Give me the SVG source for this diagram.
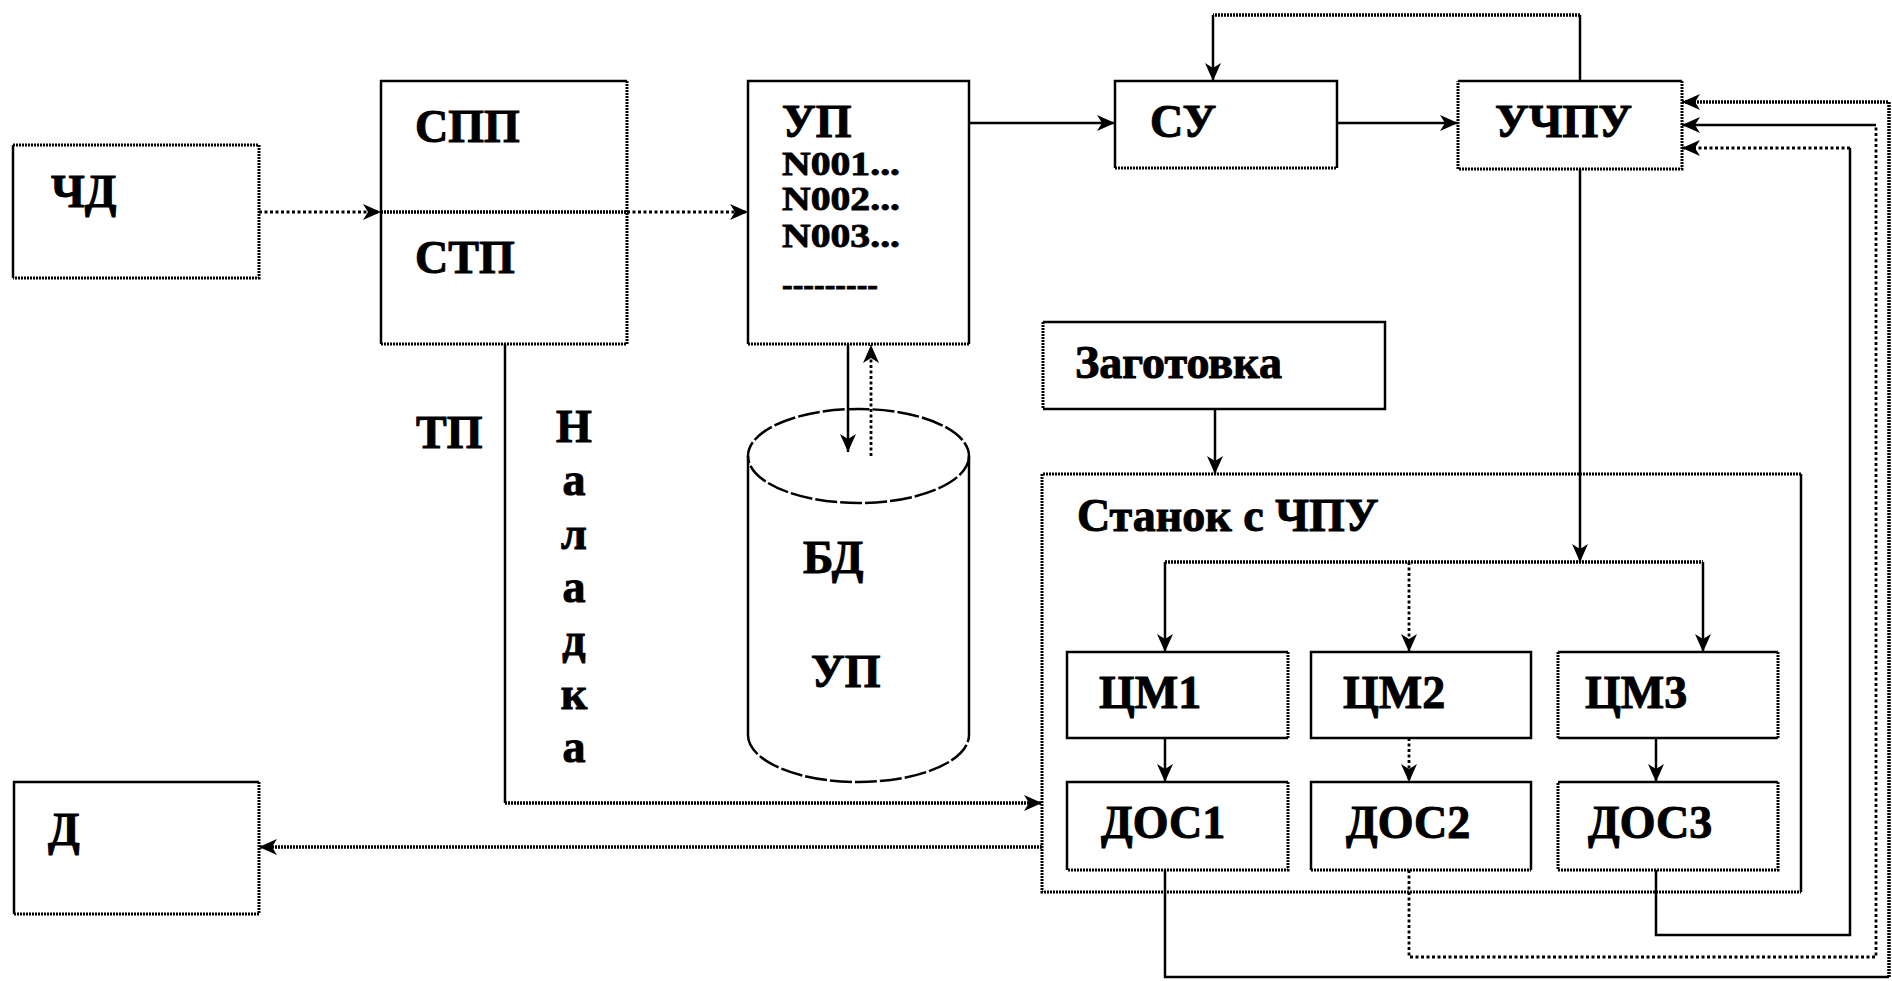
<svg xmlns="http://www.w3.org/2000/svg" width="1892" height="981" viewBox="0 0 1892 981">
<style>
.t{font-family:"Liberation Serif","Times New Roman",serif;font-weight:bold;font-size:46px;fill:#000;stroke:#000;stroke-width:1}
.ts{font-family:"Liberation Serif","Times New Roman",serif;font-weight:bold;font-size:33px;fill:#000;stroke:#000;stroke-width:0.8}
.bg{fill:#fff;stroke:none}
.s{fill:none;stroke:#000;stroke-width:2.5}
.d{fill:none;stroke:#000;stroke-width:3;stroke-dasharray:2 1}
.c{fill:none;stroke:#000;stroke-width:2.5}
.cd{fill:none;stroke:#000;stroke-width:2.8;stroke-dasharray:3 2.5}
.cth{fill:none;stroke:#000;stroke-width:3.5;stroke-dasharray:2 1}
.cyl{fill:none;stroke:#000;stroke-width:2.5;stroke-dasharray:22 3}
</style>
<defs>
<marker id="ar" markerUnits="userSpaceOnUse" markerWidth="20" markerHeight="18" refX="18" refY="9" orient="auto">
<path d="M0,1 L18,9 L0,17 L5,9 z" fill="#000" stroke="none"/>
</marker>
</defs>
<rect width="1892" height="981" fill="#fff"/>

<g id="chd">
<rect class="bg" x="13" y="145" width="246" height="133"/>
<path class="s" d="M13,145 V278"/>
<path class="d" d="M13,145 H259 V278 H13"/>
<text class="t" x="51" y="207">ЧД</text>
</g>

<g id="spp-stp">
<rect class="bg" x="381" y="81" width="246" height="263"/>
<path class="s" d="M627,81 H381 V344"/>
<path class="d" d="M627,81 V344 H381"/>
<path class="cth" d="M381,212 H627"/>
<text class="t" x="415" y="142">СПП</text>
<text class="t" x="415" y="273">СТП</text>
</g>

<g id="up">
<rect class="bg" x="748" y="81" width="221" height="263"/>
<path class="s" d="M748,344 V81 H969 V344"/>
<path class="d" d="M748,344 H969"/>
<text class="t" x="782" y="137">УП</text>
<text class="ts" x="782" y="175" textLength="118" lengthAdjust="spacingAndGlyphs">N001...</text>
<text class="ts" x="782" y="210" textLength="118" lengthAdjust="spacingAndGlyphs">N002...</text>
<text class="ts" x="782" y="247" textLength="118" lengthAdjust="spacingAndGlyphs">N003...</text>
<text class="ts" x="782" y="296" textLength="96" lengthAdjust="spacingAndGlyphs">---------</text>
</g>

<g id="su">
<rect class="bg" x="1115" y="81" width="222" height="87"/>
<path class="s" d="M1115,168 V81 H1337 V168"/>
<path class="d" d="M1115,168 H1337"/>
<text class="t" x="1150" y="137">СУ</text>
</g>

<g id="uchpu">
<rect class="bg" x="1458" y="81" width="224" height="88"/>
<path class="s" d="M1458,81 H1682"/>
<path class="d" d="M1682,81 V169 H1458 V81"/>
<text class="t" x="1495" y="137">УЧПУ</text>
</g>

<g id="bd">
<path class="s" d="M748,456 V735 M969,456 V735"/>
<ellipse class="cyl" cx="858.5" cy="456" rx="110.5" ry="47"/>
<path class="cyl" d="M748,735 A110.5,47 0 0 0 969,735"/>
<text class="t" x="803" y="573">БД</text>
<text class="t" x="811" y="687">УП</text>
</g>

<g id="zagotovka">
<rect class="bg" x="1043" y="322" width="342" height="87"/>
<path class="s" d="M1043,322 H1385 V409 H1043"/>
<path class="d" d="M1043,322 V409"/>
<text class="t" x="1075" y="378">Заготовка</text>
</g>

<g id="stanok">
<path class="s" d="M1801,474 V892"/>
<path class="d" d="M1801,474 H1042 V892 H1801"/>
<text class="t" x="1077" y="531">Станок с ЧПУ</text>
</g>

<g id="cm1">
<rect class="bg" x="1067" y="652" width="221" height="86"/>
<path class="s" d="M1288,652 H1067 V738 H1288"/>
<path class="d" d="M1288,652 V738"/>
<text class="t" x="1099" y="708">ЦМ1</text>
</g>
<g id="cm2">
<rect class="bg" x="1311" y="652" width="220" height="86"/>
<path class="s" d="M1311,652 H1531 V738 H1311 Z"/>
<text class="t" x="1343" y="708">ЦМ2</text>
</g>
<g id="cm3">
<rect class="bg" x="1558" y="652" width="220" height="86"/>
<path class="s" d="M1558,652 H1778 M1558,738 H1778"/>
<path class="d" d="M1558,652 V738 M1778,652 V738"/>
<text class="t" x="1585" y="708">ЦМ3</text>
</g>

<g id="dos1">
<rect class="bg" x="1067" y="782" width="221" height="88"/>
<path class="s" d="M1288,782 H1067 V870"/>
<path class="d" d="M1288,782 V870 H1067"/>
<text class="t" x="1101" y="838">ДОС1</text>
</g>
<g id="dos2">
<rect class="bg" x="1311" y="782" width="220" height="88"/>
<path class="s" d="M1311,870 V782 H1531 V870"/>
<path class="d" d="M1311,870 H1531"/>
<text class="t" x="1346" y="838">ДОС2</text>
</g>
<g id="dos3">
<rect class="bg" x="1558" y="782" width="220" height="88"/>
<path class="s" d="M1558,782 H1778"/>
<path class="d" d="M1778,782 V870 H1558 V782"/>
<text class="t" x="1588" y="838">ДОС3</text>
</g>

<g id="d">
<rect class="bg" x="14" y="782" width="245" height="132"/>
<path class="s" d="M259,782 H14 V914"/>
<path class="d" d="M259,782 V914 H14"/>
<text class="t" x="48" y="845">Д</text>
</g>

<g id="labels">
<text class="t" x="416" y="448">ТП</text>
<g class="t" text-anchor="middle">
<text x="574" y="442">Н</text>
<text x="574" y="495">а</text>
<text x="574" y="549">л</text>
<text x="574" y="602">а</text>
<text x="574" y="655">д</text>
<text x="574" y="709">к</text>
<text x="574" y="762">а</text>
</g>
</g>

<g id="connectors">
<path class="cd" d="M259,212 H381" marker-end="url(#ar)"/>
<path class="cd" d="M627,212 H748" marker-end="url(#ar)"/>
<path class="c" d="M969,123 H1115" marker-end="url(#ar)"/>
<path class="c" d="M1337,123 H1458" marker-end="url(#ar)"/>
<path class="c" d="M1580,81 V15"/>
<path class="cth" d="M1580,15 H1213"/>
<path class="c" d="M1213,15 V81" marker-end="url(#ar)"/>
<path class="c" d="M848,344 V452" marker-end="url(#ar)"/>
<path class="cd" d="M871,456 V345" marker-end="url(#ar)"/>
<path class="c" d="M1215,409 V474" marker-end="url(#ar)"/>
<path class="c" d="M1580,169 V562" marker-end="url(#ar)"/>
<path class="cth" d="M1165,562 H1703"/>
<path class="c" d="M1165,562 V652" marker-end="url(#ar)"/>
<path class="cd" d="M1409,562 V652" marker-end="url(#ar)"/>
<path class="c" d="M1703,562 V652" marker-end="url(#ar)"/>
<path class="c" d="M1165,738 V782" marker-end="url(#ar)"/>
<path class="cd" d="M1409,738 V782" marker-end="url(#ar)"/>
<path class="c" d="M1656,738 V782" marker-end="url(#ar)"/>
<path class="c" d="M505,344 V803"/>
<path class="cth" d="M505,803 H1042" marker-end="url(#ar)"/>
<path class="cth" d="M1042,847 H259" marker-end="url(#ar)"/>
<path class="c" d="M1165,870 V977 H1889"/>
<path class="cth" d="M1889,977 V102 H1682" marker-end="url(#ar)"/>
<path class="cd" d="M1409,870 V957 H1876 V125"/>
<path class="c" d="M1876,125 H1682" marker-end="url(#ar)"/>
<path class="c" d="M1656,870 V935 H1850 V148"/>
<path class="cd" d="M1850,148 H1682" marker-end="url(#ar)"/>
</g>
</svg>
